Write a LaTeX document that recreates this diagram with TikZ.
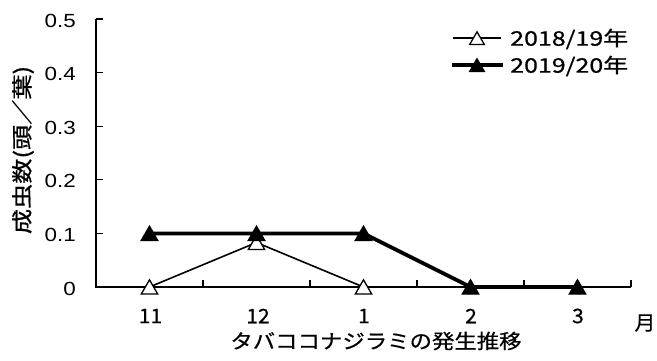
\documentclass[tikz,border=0pt]{standalone}
\usepackage{fontspec}
\usepackage{graphicx}
\setmainfont{Liberation Sans}
\newfontfamily\jp[FakeBold=0.6]{Noto Sans CJK JP}
\usetikzlibrary{shapes.geometric}
\newcommand\hstr[2]{\scalebox{#1}[1]{#2}}
\tikzset{
  axisline/.style={line width=1.5pt},
  tickline/.style={line width=1.3pt},
  ticklab/.style={anchor=east,inner sep=0pt,font=\fontsize{19}{19}\selectfont},
  xlab/.style={inner sep=0pt,font=\jp\fontsize{20}{20}\selectfont},
  thinline/.style={line width=1.6pt},
  thickline/.style={line width=3.8pt},
  opentri/.style={regular polygon,regular polygon sides=3,draw=black,fill=white,line width=1.3pt,minimum size=19pt,inner sep=0pt,yshift=-2.3pt},
  filltri/.style={regular polygon,regular polygon sides=3,draw=black,fill=black,line width=1.3pt,minimum size=19pt,inner sep=0pt,yshift=-2.3pt},
  legtext/.style={anchor=west,inner sep=0pt,font=\jp\fontsize{20}{20}\selectfont},
}
\begin{document}
\begin{tikzpicture}[x=1pt,y=-1pt]
\useasboundingbox (0,0) rectangle (657,360);
% axes
\coordinate (o) at (96,287);
\coordinate (ytop) at (96,19);
\coordinate (xend) at (631,287);
\draw[axisline] (ytop) -- (o) -- (xend);
% y ticks
\foreach \v/\lab [count=\i] in {0/0,0.1/0.1,0.2/0.2,0.3/0.3,0.4/0.4,0.5/0.5}{
  \coordinate (yt\i) at (96,287-\v*536);
  \coordinate (yte\i) at (103,287-\v*536);
  \draw[tickline] (yt\i) -- (yte\i);
  \node[ticklab] (yl\i) at (76,288.5-\v*536) {\hstr{1.18}{\lab}};
}
% x ticks
\foreach \x [count=\i] in {203,310,417,524,631}{
  \coordinate (xt\i) at (\x,287);
  \coordinate (xte\i) at (\x,280);
  \draw[tickline] (xt\i) -- (xte\i);
}
% x labels
\foreach \x/\lab [count=\i] in {150.5/11,258/12,364/1,471/2,578/3}{
  \node[xlab] (xl\i) at (\x,316) {\hstr{1.05}{\lab}};
}
\node[xlab] (unit) at (645,323) {\hstr{1.05}{月}};
\node[inner sep=0pt,font=\jp\fontsize{20}{20}\selectfont] (title) at (376,341) {\hstr{1.12}{タバココナジラミの発生推移}};
\node[inner sep=0pt,rotate=90,font=\jp\fontsize{21}{21}\selectfont] (ylab) at (23,150) {\hstr{1.2}{成虫数(頭／葉)}};
% data
\coordinate (a1) at (149.5,287);
\coordinate (a2) at (256.5,242.5);
\coordinate (a3) at (363.5,287);
\coordinate (b1) at (149.5,233.4);
\coordinate (b2) at (256.5,233.4);
\coordinate (b3) at (363.5,233.4);
\coordinate (b4) at (470.5,287);
\coordinate (b5) at (577.5,287);
\draw[thinline] (a1) -- (a2) -- (a3);
\foreach \i in {1,2,3}{\node[opentri] (ma\i) at (a\i) {};}
\draw[thickline] (b1) -- (b2) -- (b3) -- (b4) -- (b5);
\foreach \i in {1,...,5}{\node[filltri] (mb\i) at (b\i) {};}
% legend
\coordinate (l1a) at (453,38);
\coordinate (l1b) at (501,38);
\coordinate (l2a) at (452,65);
\coordinate (l2b) at (503,65);
\draw[thinline] (l1a) -- (l1b);
\node[opentri,minimum size=17pt] (lm1) at (477,38) {};
\draw[thickline] (l2a) -- (l2b);
\node[filltri,minimum size=17pt] (lm2) at (477,65) {};
\node[legtext] (lt1) at (510,39) {\hstr{1.25}{2018/19年}};
\node[legtext] (lt2) at (510,66) {\hstr{1.25}{2019/20年}};
\end{tikzpicture}
\end{document}
